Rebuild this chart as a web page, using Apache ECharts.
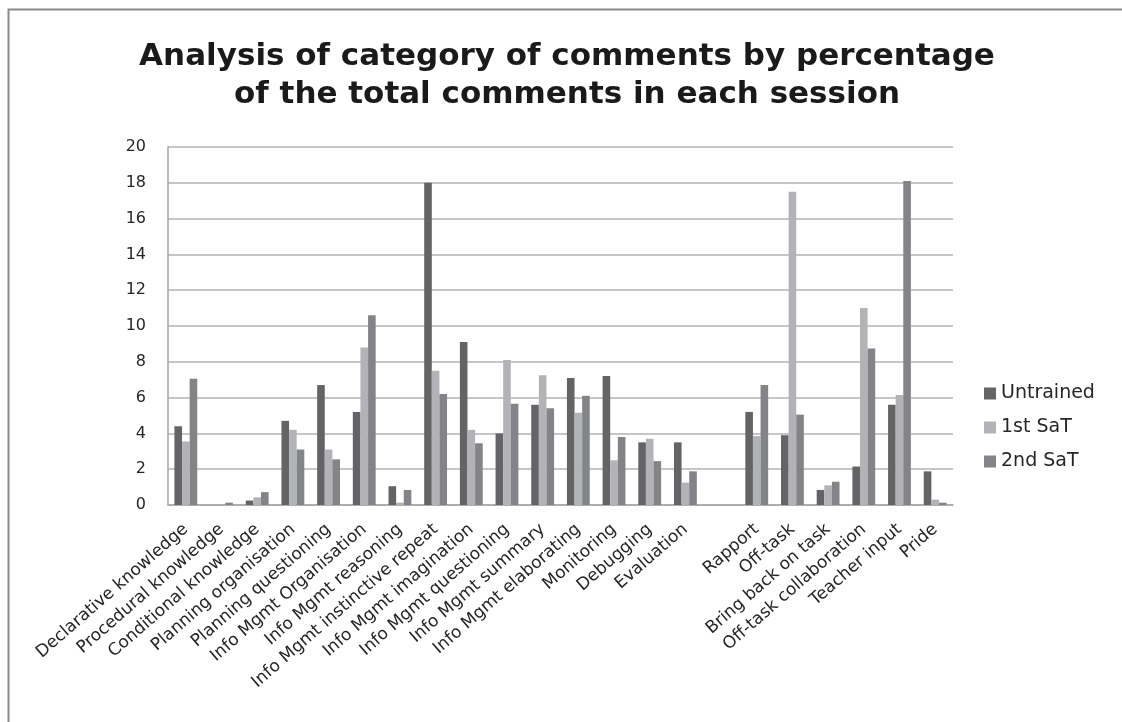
<!DOCTYPE html>
<html>
<head>
<meta charset="utf-8">
<script src="https://cdn.jsdelivr.net/npm/echarts@6/dist/echarts.min.js"></script>
<style>
  html, body { margin: 0; padding: 0; background: #fff; }
  #chart { width: 1122px; height: 722px; }
</style>
</head>
<body>
<div id="chart"></div>
<script>
// Comment categories (an empty slot separates the two groups)
const categories = [
  'Declarative knowledge', 'Procedural knowledge', 'Conditional knowledge',
  'Planning organisation', 'Planning questioning', 'Info Mgmt Organisation',
  'Info Mgmt reasoning', 'Info Mgmt instinctive repeat', 'Info Mgmt imagination',
  'Info Mgmt questioning', 'Info Mgmt summary', 'Info Mgmt elaborating',
  'Monitoring', 'Debugging', 'Evaluation', '',
  'Rapport', 'Off-task', 'Bring back on task', 'Off-task collaboration',
  'Teacher input', 'Pride'
];

// Percentage of total comments per session
const untrained = [4.4, 0, 0.25, 4.7, 6.7, 5.2, 1.05, 18.0, 9.1, 4.0, 5.6, 7.1, 7.2, 3.5, 3.5, null, 5.2, 3.9, 0.84, 2.15, 5.6, 1.88];
const firstSaT  = [3.55, 0, 0.43, 4.2, 3.1, 8.8, 0.13, 7.5, 4.2, 8.1, 7.25, 5.15, 2.5, 3.7, 1.25, null, 3.85, 17.5, 1.1, 11.0, 6.15, 0.3];
const secondSaT = [7.05, 0.13, 0.72, 3.1, 2.55, 10.6, 0.84, 6.2, 3.45, 5.65, 5.4, 6.1, 3.8, 2.45, 1.88, null, 6.7, 5.05, 1.3, 8.75, 18.1, 0.13];

const yTicks = { min: 0, max: 20, interval: 2 };

const font = '"DejaVu Sans", "Open Sans", sans-serif';
const chart = echarts.init(document.getElementById('chart'), null, { renderer: 'canvas' });

chart.setOption({
  backgroundColor: '#ffffff',
  animation: false,
  graphic: [{
    // outer frame: only the left and top edges fall inside the page
    type: 'polyline',
    shape: { points: [[8.5, 722], [8.5, 9.5], [1122, 9.5]] },
    style: { fill: null, stroke: '#8a8a8a', lineWidth: 2 },
    silent: true
  }],
  title: {
    text: 'Analysis of category of comments by percentage\nof the total comments in each session',
    left: 562,
    top: 33,
    textAlign: 'center',
    textStyle: {
      fontFamily: font,
      fontWeight: 'bold',
      fontSize: 31,
      lineHeight: 38,
      color: '#1a1a1a'
    }
  },
  legend: {
    orient: 'vertical',
    left: 979,
    top: 379,
    itemWidth: 12,
    itemHeight: 12,
    itemGap: 15,
    icon: 'rect',
    textStyle: { fontFamily: font, fontSize: 19, color: '#262626' },
    data: ['Untrained', '1st SaT', '2nd SaT']
  },
  grid: { left: 168, right: 169, top: 147, bottom: 217, containLabel: false },
  xAxis: {
    type: 'category',
    data: categories,
    axisLine: { lineStyle: { color: '#a6a6a6', width: 1.5 } },
    axisTick: { show: false },
    axisLabel: {
      interval: 0,
      rotate: 41,
      margin: 22,
      fontFamily: font,
      fontSize: 17,
      color: '#262626'
    }
  },
  yAxis: {
    type: 'value',
    min: yTicks.min,
    max: yTicks.max,
    interval: yTicks.interval,
    axisLine: { show: true, lineStyle: { color: '#a6a6a6', width: 1.5 } },
    axisTick: { show: false },
    splitLine: { lineStyle: { color: '#b3b3b3', width: 1.5 } },
    axisLabel: { fontFamily: font, fontSize: 16, color: '#262626', margin: 22 }
  },
  series: [
    { name: 'Untrained', type: 'bar', data: untrained, itemStyle: { color: '#646466' }, barGap: '0%', barCategoryGap: '36%' },
    { name: '1st SaT', type: 'bar', data: firstSaT, itemStyle: { color: '#b2b3b6' } },
    { name: '2nd SaT', type: 'bar', data: secondSaT, itemStyle: { color: '#838488' } }
  ]
});
</script>
</body>
</html>
